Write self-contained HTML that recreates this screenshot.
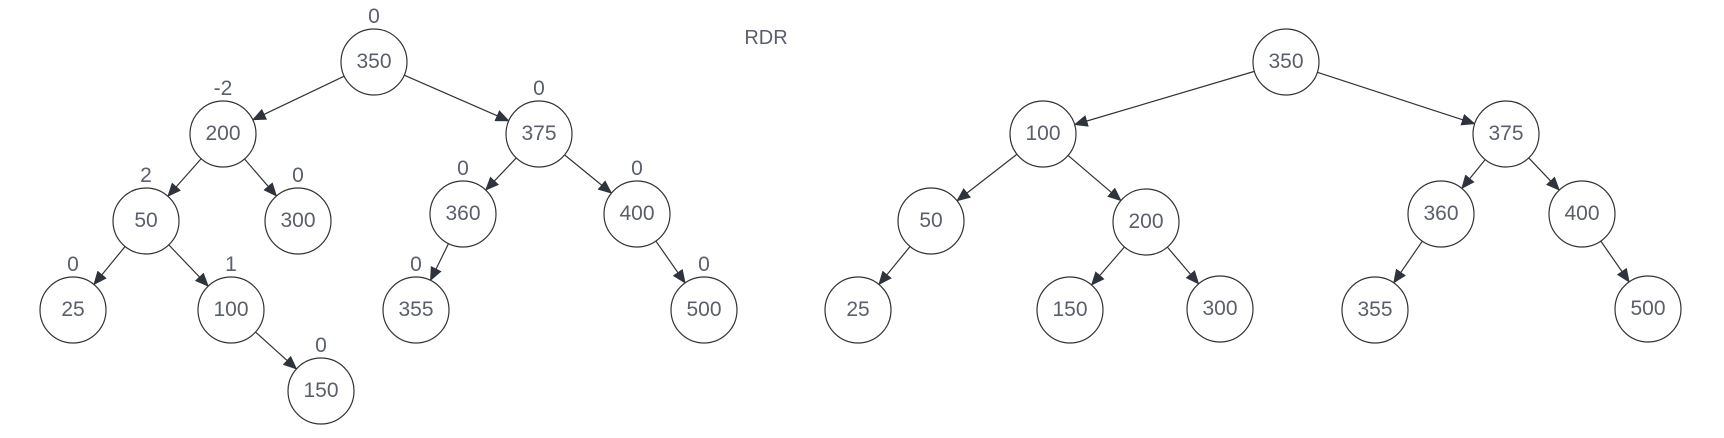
<!DOCTYPE html>
<html><head><meta charset="utf-8"><style>
html,body{margin:0;padding:0;background:#fff;}
svg{display:block;font-family:"Liberation Sans",sans-serif;}
</style></head><body>
<svg id="c" width="1724" height="438" viewBox="0 0 1724 438">
<defs><marker id="ah" markerWidth="14" markerHeight="12" refX="13" refY="6" orient="auto" markerUnits="userSpaceOnUse"><path d="M0,0 L14,6 L0,12 z" fill="#2f343c"/></marker></defs>
<text x="766" y="44" font-size="20" fill="#5a5f6b" text-anchor="middle">RDR</text>
</svg>
<script>
const leftValues=["350","200","375","50","300","360","400","25","100","355","500","150"];
const leftBalance=["0","-2","0","2","0","0","0","0","1","0","0","0"];
const leftPos=[[374,62],[223,134],[539,134],[146,221],[298,221],[463,214],[637,214],[73,310],[231,310],[416,310],[704,310],[321,391]];
const leftEdges=[[0,1],[0,2],[1,3],[1,4],[2,5],[2,6],[3,7],[3,8],[5,9],[6,10],[8,11]];
const rightValues=["350","100","375","50","200","360","400","25","150","300","355","500"];
const rightPos=[[1286,62],[1043,134],[1506,134],[931,221],[1146,222],[1441,214],[1582,214],[858,310],[1070,310],[1220,309],[1375,310],[1648,309]];
const rightEdges=[[0,1],[0,2],[1,3],[1,4],[2,5],[2,6],[3,7],[4,8],[4,9],[5,10],[6,11]];
const R=33, NS="http://www.w3.org/2000/svg", svg=document.getElementById('c');
function mk(t,a){const e=document.createElementNS(NS,t);for(const k in a)e.setAttribute(k,a[k]);return e;}
function tree(vals,pos,edges,bal,prefix){
  edges.forEach(([a,b])=>{
    const [x1,y1]=pos[a],[x2,y2]=pos[b];const dx=x2-x1,dy=y2-y1,d=Math.hypot(dx,dy);
    const l=mk('line',{x1:x1+dx/d*R,y1:y1+dy/d*R,x2:x2-dx/d*R,y2:y2-dy/d*R,stroke:'#333',"stroke-width":1.2,"marker-end":'url(#ah)'});
    
    
    svg.appendChild(l);
  });
  vals.forEach((v,i)=>{
    const [x,y]=pos[i];
    const g=mk('g',{});
    
    
    g.appendChild(mk('circle',{cx:x,cy:y,r:R,fill:'#fff',stroke:'#333',"stroke-width":1.2}));
    const t=mk('text',{x:x,y:y+6,"font-size":21,fill:'#5a5f6b',"text-anchor":'middle'});t.textContent=v;g.appendChild(t);
    svg.appendChild(g);
    if(bal){
      const b=mk('text',{x:x,y:y-R-6,"font-size":21,fill:'#5a5f6b',"text-anchor":'middle'});b.textContent=bal[i];
      
      
      svg.appendChild(b);
    }
  });
}
tree(leftValues,leftPos,leftEdges,leftBalance,'left');
tree(rightValues,rightPos,rightEdges,null,'right');
</script>
</body></html>
